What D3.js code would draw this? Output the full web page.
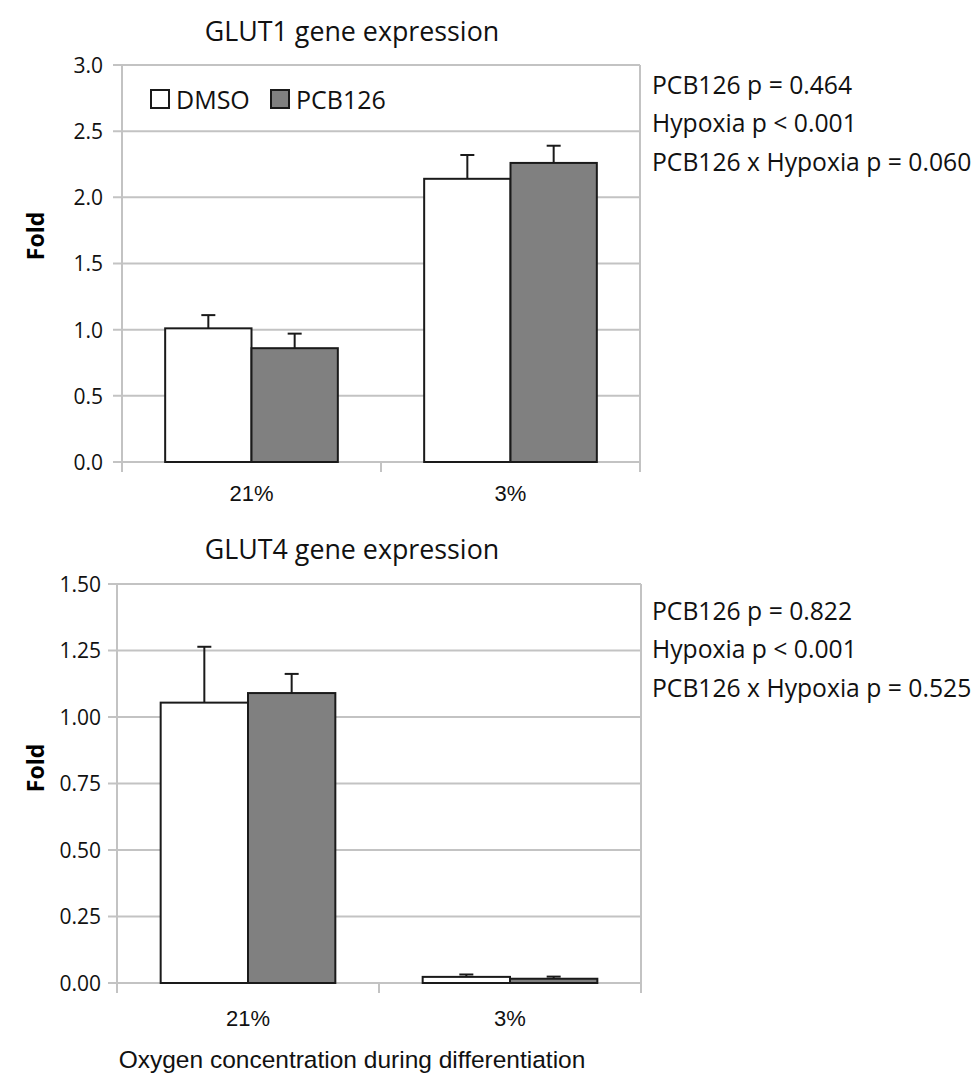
<!DOCTYPE html>
<html>
<head>
<meta charset="utf-8">
<script src="https://cdn.jsdelivr.net/npm/d3@7"></script>
<style>
  html, body { margin: 0; padding: 0; background: #fff; }
  svg { display: block; }
</style>
</head>
<body>
<svg id="chart" width="976" height="1075"></svg>
<script>
// ---------- data ----------
const categories = ["21%", "3%"];
const seriesNames = ["DMSO", "PCB126"];

const glut1DMSO = [1.01, 2.14];
const glut1DMSOErr = [0.10, 0.18];
const glut1PCB = [0.86, 2.26];
const glut1PCBErr = [0.11, 0.13];

const glut4DMSO = [1.054, 0.023];
const glut4DMSOErr = [0.21, 0.009];
const glut4PCB = [1.09, 0.016];
const glut4PCBErr = [0.072, 0.008];

const glut1Ticks = [0, 0.5, 1.0, 1.5, 2.0, 2.5, 3.0];
const glut4Ticks = [0, 0.25, 0.5, 0.75, 1.0, 1.25, 1.5];

const glut1Stats = ["PCB126 p = 0.464", "Hypoxia p < 0.001", "PCB126 x Hypoxia p = 0.060"];
const glut4Stats = ["PCB126 p = 0.822", "Hypoxia p < 0.001", "PCB126 x Hypoxia p = 0.525"];

const titles = ["GLUT1 gene expression", "GLUT4 gene expression"];
const yTitle = "Fold";
const xTitle = "Oxygen concentration during differentiation";

// ---------- styling ----------
const fills = ["#ffffff", "#808080"];
const gridColor = "#c3c3c3";
const textColor = "#111111";
const uiFont = "'Open Sans', sans-serif";
const labelFont = "'Liberation Sans', Arial, sans-serif";

const svg = d3.select("#chart");

function panel(opts) {
  const g = svg.append("g");
  const x = d3.scaleBand().domain(categories).range([opts.x0, opts.x1])
    .paddingInner(1/3).paddingOuter(1/6);
  const xs = d3.scaleBand().domain(seriesNames).range([0, x.bandwidth()]);
  const y = d3.scaleLinear().domain([0, opts.max]).range([opts.yb, opts.yt]);

  // gridlines
  g.append("g").selectAll("line").data(opts.ticks).join("line")
    .attr("x1", opts.x0 - 9).attr("x2", opts.x1)
    .attr("y1", d => y(d)).attr("y2", d => y(d))
    .attr("stroke", gridColor).attr("stroke-width", 2);

  // y axis line
  g.append("line").attr("x1", opts.x0).attr("x2", opts.x0)
    .attr("y1", y(opts.max)).attr("y2", opts.yb + 10)
    .attr("stroke", gridColor).attr("stroke-width", 2);
  // x tick marks at category boundaries + right border
  const bounds = [opts.x0, (opts.x0 + opts.x1) / 2, opts.x1];
  g.append("g").selectAll("line").data(bounds).join("line")
    .attr("x1", d => d).attr("x2", d => d)
    .attr("y1", (d, i) => i === 2 ? y(opts.max) : opts.yb).attr("y2", opts.yb + 10)
    .attr("stroke", gridColor).attr("stroke-width", 2);

  // y tick labels via axis
  const yAxis = d3.axisLeft(y).tickValues(opts.ticks).tickSize(0).tickPadding(0)
    .tickFormat(d3.format(opts.fmt));
  const ya = g.append("g").attr("transform", `translate(${opts.labelRight},0)`).call(yAxis);
  ya.select(".domain").remove();
  ya.attr("font-size", null).attr("font-family", null);
  ya.selectAll("text").attr("font-family", uiFont).attr("font-size", 21)
    .attr("fill", textColor).attr("dy", "0.35em");

  // x category labels via axis
  const xAxis = d3.axisBottom(x).tickSize(0).tickPadding(0);
  const xa = g.append("g").attr("transform", `translate(0,${opts.xLabelY})`).call(xAxis);
  xa.select(".domain").remove();
  xa.attr("font-size", null).attr("font-family", null);
  xa.selectAll("text").attr("font-family", labelFont).attr("font-size", 22)
    .attr("fill", textColor).attr("dy", "0.35em");

  // bars
  const rows = [];
  categories.forEach((c, i) => {
    seriesNames.forEach((s, j) => {
      rows.push({ c, s, j, v: opts.vals[j][i], e: opts.errs[j][i] });
    });
  });
  const bg = g.append("g");
  bg.selectAll("rect").data(rows).join("rect")
    .attr("x", d => x(d.c) + xs(d.s))
    .attr("y", d => y(d.v))
    .attr("width", xs.bandwidth())
    .attr("height", d => y(0) - y(d.v))
    .attr("fill", d => fills[d.j])
    .attr("stroke", "#1a1a1a").attr("stroke-width", 2);

  // error bars (upper only)
  const eg = g.append("g").attr("stroke", "#1a1a1a").attr("stroke-width", 2);
  eg.selectAll("line.v").data(rows).join("line").attr("class", "v")
    .attr("x1", d => x(d.c) + xs(d.s) + xs.bandwidth() / 2)
    .attr("x2", d => x(d.c) + xs(d.s) + xs.bandwidth() / 2)
    .attr("y1", d => y(d.v)).attr("y2", d => y(d.v + d.e));
  eg.selectAll("line.c").data(rows).join("line").attr("class", "c")
    .attr("x1", d => x(d.c) + xs(d.s) + xs.bandwidth() / 2 - 7)
    .attr("x2", d => x(d.c) + xs(d.s) + xs.bandwidth() / 2 + 7)
    .attr("y1", d => y(d.v + d.e)).attr("y2", d => y(d.v + d.e));

  // title
  g.append("text").attr("x", 352).attr("y", opts.titleY)
    .attr("text-anchor", "middle").attr("dominant-baseline", "central")
    .attr("font-family", uiFont).attr("font-size", 26.8).attr("fill", textColor)
    .text(opts.title);

  // y title
  g.append("text").attr("transform", `translate(35,${opts.foldY}) rotate(-90)`)
    .attr("text-anchor", "middle").attr("dominant-baseline", "central")
    .attr("font-family", uiFont).attr("font-weight", "bold").attr("font-size", 23)
    .attr("fill", "#000").text(yTitle);

  // stats text
  g.append("g").selectAll("text").data(opts.stats).join("text")
    .attr("x", 652).attr("y", (d, i) => opts.statsY + i * 38.5)
    .attr("dominant-baseline", "central")
    .attr("font-family", uiFont).attr("font-size", 24.7).attr("fill", textColor)
    .text(d => d);

  return { g, x, y };
}

const p1 = panel({
  x0: 122, x1: 640, yb: 462, yt: 65, max: 3.0, ticks: glut1Ticks, fmt: ".1f",
  labelRight: 103, xLabelY: 493,
  vals: [glut1DMSO, glut1PCB], errs: [glut1DMSOErr, glut1PCBErr],
  title: titles[0], titleY: 30, foldY: 236, stats: glut1Stats, statsY: 84
});

const p2 = panel({
  x0: 117, x1: 641, yb: 983, yt: 584, max: 1.5, ticks: glut4Ticks, fmt: ".2f",
  labelRight: 101, xLabelY: 1018,
  vals: [glut4DMSO, glut4PCB], errs: [glut4DMSOErr, glut4PCBErr],
  title: titles[1], titleY: 548, foldY: 768, stats: glut4Stats, statsY: 610
});

// legend (top panel)
const leg = svg.append("g");
const legX = [151, 271];
seriesNames.forEach((s, i) => {
  leg.append("rect").attr("x", legX[i]).attr("y", 90).attr("width", 18).attr("height", 18)
    .attr("fill", fills[i]).attr("stroke", "#1a1a1a").attr("stroke-width", 2);
  leg.append("text").attr("x", legX[i] + 25).attr("y", 99)
    .attr("dominant-baseline", "central")
    .attr("font-family", uiFont).attr("font-size", 25).attr("fill", textColor).text(s);
});

// x axis title
svg.append("text").attr("x", 352).attr("y", 1059)
  .attr("text-anchor", "middle").attr("dominant-baseline", "central")
  .attr("font-family", labelFont).attr("font-size", 24.5).attr("fill", textColor)
  .text(xTitle);
</script>
</body>
</html>
